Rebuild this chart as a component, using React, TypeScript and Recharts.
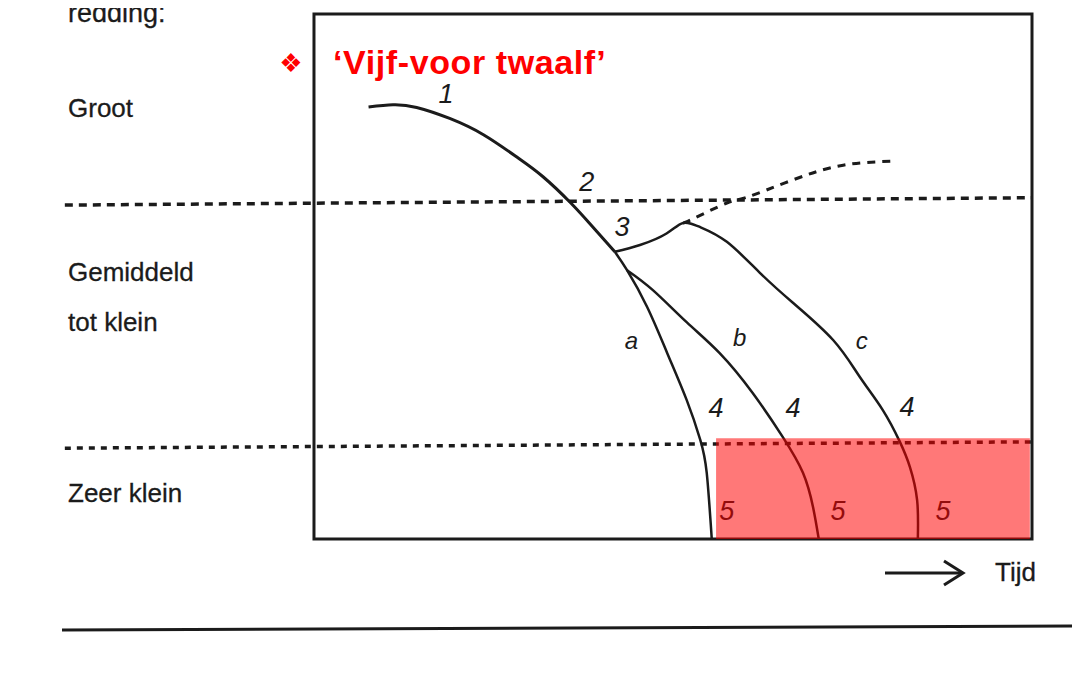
import React from 'react';
import {
  ComposedChart,
  Line,
  Scatter,
  XAxis,
  YAxis,
  ReferenceArea,
  ReferenceLine,
} from 'recharts';

// x: time (0..100 inside the frame), y: chance of rescue (0..100)
const mainCurve = [
  { x: 7.6, y: 82.3 },
  { x: 11.0, y: 82.7 },
  { x: 14.3, y: 82.2 },
  { x: 18.9, y: 80.1 },
  { x: 23.6, y: 77.0 },
  { x: 28.2, y: 72.8 },
  { x: 31.9, y: 69.0 },
  { x: 35.7, y: 64.1 },
  { x: 38.4, y: 60.1 },
  { x: 41.9, y: 54.7 },
];

const curveA = [
  { x: 41.9, y: 54.7 },
  { x: 43.6, y: 51.2 },
  { x: 46.4, y: 44.2 },
  { x: 49.2, y: 35.4 },
  { x: 51.9, y: 26.5 },
  { x: 53.8, y: 18.9 },
  { x: 54.7, y: 12.6 },
  { x: 55.4, y: 0 },
];

const curveB = [
  { x: 43.6, y: 51.2 },
  { x: 47.2, y: 47.4 },
  { x: 51.9, y: 41.3 },
  { x: 56.5, y: 35.4 },
  { x: 61.1, y: 27.8 },
  { x: 65.3, y: 19.4 },
  { x: 68.1, y: 12.6 },
  { x: 69.5, y: 6.1 },
  { x: 70.3, y: 0 },
];

const curveC = [
  { x: 41.9, y: 54.7 },
  { x: 45.4, y: 56.0 },
  { x: 49.1, y: 58.2 },
  { x: 51.4, y: 60.2 },
  { x: 53.8, y: 59.4 },
  { x: 57.5, y: 56.6 },
  { x: 62.1, y: 50.7 },
  { x: 66.7, y: 45.0 },
  { x: 72.3, y: 37.9 },
  { x: 76.0, y: 30.9 },
  { x: 79.2, y: 24.6 },
  { x: 81.6, y: 18.5 },
  { x: 83.0, y: 13.7 },
  { x: 84.0, y: 7.4 },
  { x: 84.1, y: 0 },
];

const recoveryCurve = [
  { x: 51.4, y: 60.2 },
  { x: 52.8, y: 61.0 },
  { x: 57.5, y: 64.0 },
  { x: 60.3, y: 65.1 },
  { x: 66.7, y: 68.4 },
  { x: 73.7, y: 71.2 },
  { x: 81.2, y: 72.0 },
];

const curveLabels = [
  { x: 18.4, y: 84.7, text: '1' },
  { x: 38.0, y: 68.0, text: '2' },
  { x: 42.9, y: 59.5, text: '3' },
  { x: 44.2, y: 37.9, text: 'a' },
  { x: 59.3, y: 38.3, text: 'b' },
  { x: 76.3, y: 37.9, text: 'c' },
  { x: 56.0, y: 25.0, text: '4' },
  { x: 66.7, y: 25.0, text: '4' },
  { x: 82.6, y: 25.1, text: '4' },
  { x: 57.5, y: 5.3, text: '5' },
  { x: 73.0, y: 5.3, text: '5' },
  { x: 87.6, y: 5.3, text: '5' },
];

const levelTicks = [82.1, 46.1, 8.8];
const levelNames = [['Groot'], ['Gemiddeld', 'tot klein'], ['Zeer klein']];

const upperBorder = [
  { x: -34.7, y: 63.6 },
  { x: 100, y: 65.0 },
];
const lowerBorder = [
  { x: -34.7, y: 17.3 },
  { x: 100, y: 18.5 },
];

// too-late zone
const lateZone = { x1: 56.0, x2: 99.7, y1: 0, y2: 19.2 };

const INK = '#1b1b1b';
const FONT = '"Liberation Sans", Arial, sans-serif';

const LevelTick = (props: any) => {
  const idx = levelTicks.findIndex((t) => Math.abs(t - Number(props.payload?.value)) < 0.01);
  const lines = levelNames[idx] || [];
  const start = -((lines.length - 1) * 50) / 2;
  return (
    <g>
      {lines.map((l, i) => (
        <text
          key={l}
          x={60}
          y={props.y + start + i * 50}
          dominantBaseline="central"
          textAnchor="start"
          fontSize={26}
          fontFamily={FONT}
          fill={INK}
          stroke={INK}
          strokeWidth={0.3}
        >
          {l}
        </text>
      ))}
    </g>
  );
};

const CurveLabel = (props: any) => {
  const { cx, cy, payload } = props;
  const isLetter = /[a-z]/.test(payload.text);
  return (
    <text
      x={cx}
      y={cy}
      textAnchor="middle"
      dominantBaseline="central"
      fontSize={isLetter ? 24 : 27}
      fontStyle="italic"
      fontFamily={FONT}
      fill={INK}
    >
      {payload.text}
    </text>
  );
};

export default function App() {
  return (
    <div style={{ position: 'relative', width: 1064, height: 659, fontFamily: FONT }}>
      <ComposedChart
        width={1064}
        height={659}
        margin={{ top: 6, right: 40, left: 46.5, bottom: 128 }}
      >
        <XAxis type="number" dataKey="x" domain={[-36, 100]} hide allowDataOverflow />
        <YAxis
          type="number"
          dataKey="y"
          domain={[0, 100]}
          width={1}
          ticks={levelTicks}
          interval={0}
          tick={(p: any) => <LevelTick {...p} />}
          axisLine={false}
          tickLine={false}
          allowDataOverflow
        />

        <ReferenceArea
          x1={0}
          x2={100}
          y1={0}
          y2={100}
          fill="none"
          stroke={INK}
          strokeWidth={3}
        />
        <ReferenceLine
          segment={upperBorder}
          stroke={INK}
          strokeWidth={3.5}
          strokeDasharray="8 6"
        />
        <ReferenceLine
          segment={lowerBorder}
          stroke={INK}
          strokeWidth={3.5}
          strokeDasharray="6 6"
        />

        <Line data={mainCurve} dataKey="y" type="natural" stroke={INK} strokeWidth={3} dot={false} isAnimationActive={false} />
        <Line data={curveA} dataKey="y" type="natural" stroke={INK} strokeWidth={2.5} dot={false} isAnimationActive={false} />
        <Line data={curveB} dataKey="y" type="natural" stroke={INK} strokeWidth={2.5} dot={false} isAnimationActive={false} />
        <Line data={curveC} dataKey="y" type="natural" stroke={INK} strokeWidth={2.5} dot={false} isAnimationActive={false} />
        <Line
          data={recoveryCurve}
          dataKey="y"
          type="natural"
          stroke={INK}
          strokeWidth={3}
          strokeDasharray="8 7"
          dot={false}
          isAnimationActive={false}
        />
        <Scatter data={curveLabels} dataKey="y" shape={<CurveLabel />} isAnimationActive={false} />

        <ReferenceArea
          x1={lateZone.x1}
          x2={lateZone.x2}
          y1={lateZone.y1}
          y2={lateZone.y2}
          fill="#ff0000"
          fillOpacity={0.53}
          stroke="none"
          zIndex={2000}
        />
      </ComposedChart>

      <svg
        width={1080}
        height={675}
        style={{ position: 'absolute', left: -8, top: -8, pointerEvents: 'none' }}
      >
        <text x={68} y={22} fontSize={27} fontFamily={FONT} fill={INK} stroke={INK} strokeWidth={0.3}>
          redding:
        </text>
        <text
          x={291}
          y={63}
          textAnchor="middle"
          dominantBaseline="central"
          fontSize={26}
          fontFamily='"DejaVu Sans", sans-serif'
          fill="#ff0000"
        >
          ❖
        </text>
        <text
          x={333}
          y={74}
          fontSize={34}
          letterSpacing={0.6}
          fontWeight="bold"
          fontFamily={FONT}
          fill="#ff0000"
        >
          ‘Vijf-voor twaalf’
        </text>
        <line x1={885} y1={573} x2={961} y2={573} stroke={INK} strokeWidth={3} />
        <polyline
          points="944,561 963,573 944,585"
          fill="none"
          stroke={INK}
          strokeWidth={3}
        />
        <text x={995} y={581} fontSize={26} fontFamily={FONT} fill={INK} stroke={INK} strokeWidth={0.3}>
          Tijd
        </text>
        <line x1={62} y1={630} x2={1080} y2={626} stroke={INK} strokeWidth={3} />
      </svg>
    </div>
  );
}
